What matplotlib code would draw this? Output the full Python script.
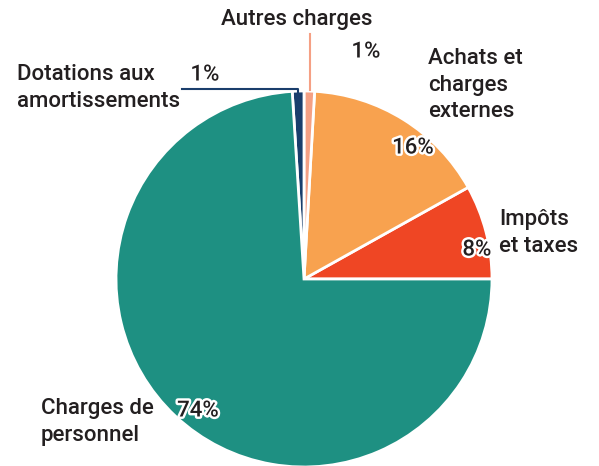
import matplotlib.pyplot as plt
from matplotlib import patheffects as pe

# slices, counterclockwise from 3 o'clock
categories = ["Impôts\net taxes", "Achats et\ncharges\nexternes", "Autres charges",
              "Dotations aux\namortissements", "Charges de\npersonnel"]
values = [8.1, 16.0, 0.9, 1.0, 74.0]
pct_labels = ["8%", "16%", "1%", "1%", "74%"]
colors = ["#ef4624", "#f8a24f", "#f5a084", "#1a3e6c", "#1e9082"]

W, H = 599, 466
FONT = ["Roboto", "DejaVu Sans"]
TXT = "#231f20"

fig = plt.figure(figsize=(W / 100, H / 100), dpi=100)
ax = fig.add_axes([0, 0, 1, 1])

cx, cy, r = 304, H - 279, 188
ax.pie(values, colors=colors, startangle=0, counterclock=True,
       center=(cx, cy), radius=r,
       wedgeprops=dict(edgecolor="white", linewidth=2))
ax.set_xlim(0, W)
ax.set_ylim(0, H)
ax.set_aspect("equal")
ax.axis("off")


def y(px):
    return H - px


# category labels (position in pixels from the top-left)
label_pos = [(499, 233, "left"), (428, 85, "left"), (297, 20, "center"),
             (17, 88, "left"), (41, 422, "left")]
for text, (lx, ly, ha) in zip(categories, label_pos):
    ax.text(lx, y(ly), text, ha=ha, va="center", fontsize=16, color=TXT,
            family=FONT, weight="medium", linespacing=1.32)

# percentage labels with white halo
pct_pos = [(477, 250), (413, 148), (366, 52), (205, 75), (198, 411)]
for text, (px, py) in zip(pct_labels, pct_pos):
    ax.text(px, y(py), text, ha="center", va="center", fontsize=16,
            color=TXT, family=FONT, weight="medium",
            path_effects=[pe.withStroke(linewidth=3.5, foreground="white")])

# leader lines for the two thin slices
ax.plot([310, 310], [y(34), y(90)], color=colors[2], lw=1.5)
ax.plot([182, 298, 298], [y(88.5), y(88.5), y(93)], color=colors[3], lw=1.5)

fig.savefig("out.png", dpi=100)
